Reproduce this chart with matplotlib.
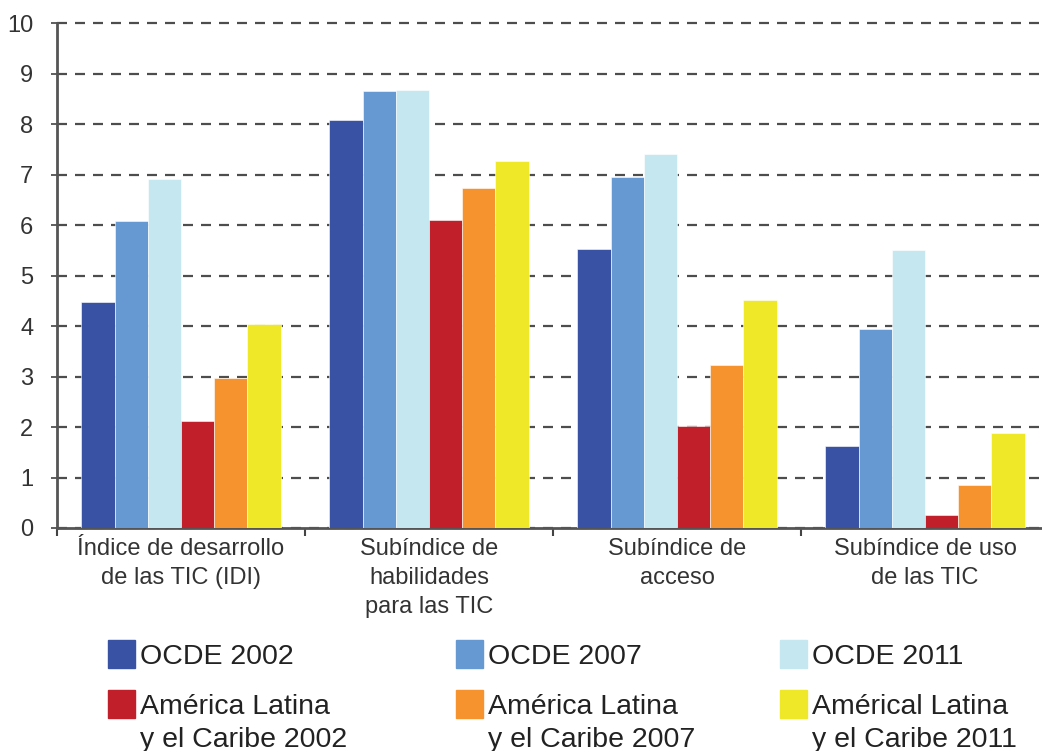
import matplotlib
matplotlib.use("Agg")
import matplotlib.pyplot as plt
from matplotlib.patches import Rectangle
import numpy as np

plt.rcParams['font.family'] = ['Liberation Sans', 'DejaVu Sans']

categories = ["Índice de desarrollo\nde las TIC (IDI)",
              "Subíndice de\nhabilidades\npara las TIC",
              "Subíndice de\nacceso",
              "Subíndice de uso\nde las TIC"]
series_names = ["OCDE 2002", "OCDE 2007", "OCDE 2011",
                "América Latina\ny el Caribe 2002",
                "América Latina\ny el Caribe 2007",
                "Américal Latina\ny el Caribe 2011"]
ocde_2002 = [4.48, 8.08, 5.53, 1.63]
ocde_2007 = [6.07, 8.65, 6.95, 3.95]
ocde_2011 = [6.92, 8.68, 7.41, 5.50]
alc_2002 = [2.12, 6.10, 2.02, 0.26]
alc_2007 = [2.97, 6.74, 3.22, 0.85]
alc_2011 = [4.03, 7.27, 4.52, 1.88]
yticks = list(range(0, 11))

series = [ocde_2002, ocde_2007, ocde_2011, alc_2002, alc_2007, alc_2011]
colors = ["#3A52A3", "#6699D1", "#C4E7F0", "#C11F29", "#F7932E", "#EFE829"]

fig = plt.figure(figsize=(10.42, 7.51), dpi=100)
ax = fig.add_axes([57/1042, 223/751, 1 - 57/1042, 505/751])

x = np.arange(len(categories))
n = len(series)
bw = 0.134
for i, (vals, c) in enumerate(zip(series, colors)):
    ax.bar(x + (i - (n - 1) / 2) * bw, vals, width=bw, color=c,
           edgecolor="white", linewidth=0.4, zorder=3)

ax.set_ylim(0, 10)
ax.set_xlim(-0.5, 3.5 - 7/248)
ax.set_yticks(yticks)
ax.yaxis.grid(True, color="#4d4d4d", linewidth=1.6, linestyle=(0, (4.5, 3.6)), zorder=1)
for gl in ax.get_ygridlines():
    gl.set_clip_on(False)
ax.set_axisbelow(True)

ax.set_xticks(x)
ax.set_xticklabels(categories, fontsize=17, color="#333333", linespacing=1.42)
ax.tick_params(axis='x', length=0, pad=7)
ax.set_xticks(np.arange(-0.5, 3.5, 1.0), minor=True)
ax.tick_params(axis='x', which='minor', length=6, width=1.5, color="#444444", direction='out')
ax.tick_params(axis='y', length=4, width=1.2, color="#444444", pad=13,
               labelsize=17, labelcolor="#333333")

for s in ["top", "right"]:
    ax.spines[s].set_visible(False)
for s in ["left", "bottom"]:
    ax.spines[s].set_color("#555555")
    ax.spines[s].set_linewidth(2)

# legend (manual)
W, H = 1042, 751
col_x = [108, 456, 780]
row_y = [640, 690]
for i, (name, c) in enumerate(zip(series_names, colors)):
    r, col = divmod(i, 3)
    px, py = col_x[col], row_y[r]
    fig.patches.append(Rectangle((px / W, 1 - (py + 28) / H), 27 / W, 28 / H,
                                 transform=fig.transFigure, color=c, figure=fig))
    fig.text((px + 32) / W, 1 - (py + 4) / H, name, fontsize=20.5, color="#222222",
             ha="left", va="top", linespacing=1.33)

fig.savefig("out.png", dpi=100)
